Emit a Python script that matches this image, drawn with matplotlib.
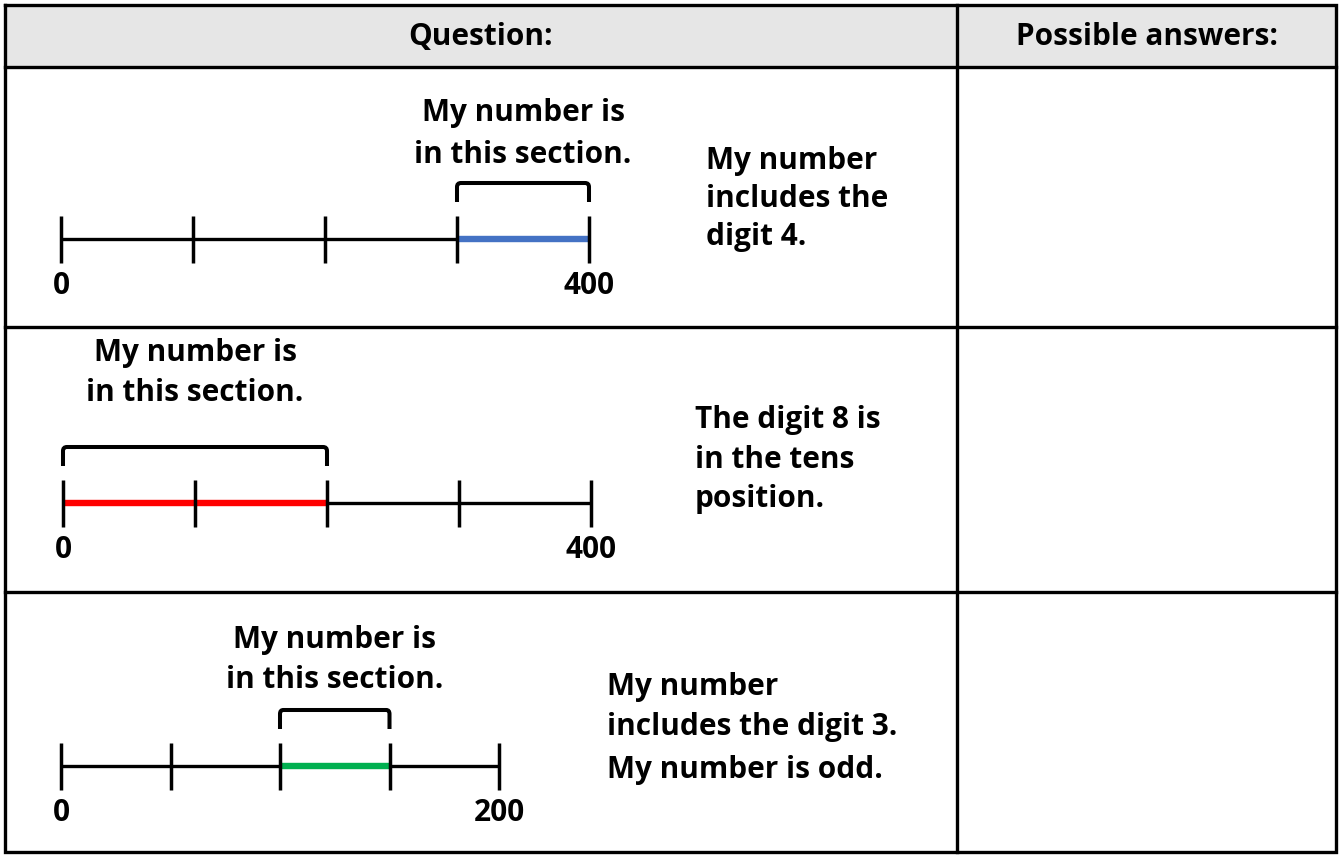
import matplotlib
matplotlib.use("Agg")
import matplotlib.pyplot as plt
from matplotlib.path import Path
from matplotlib.patches import PathPatch, Rectangle

W, H = 1342, 855
plt.rcParams['font.family'] = ['Open Sans', 'DejaVu Sans']

# ---- data ----
headers = ["Question:", "Possible answers:"]
line_max = [400, 400, 200]
n_segments = [4, 4, 4]
end_labels = [("0", "400"), ("0", "400"), ("0", "200")]
highlight_start = [300, 0, 100]
highlight_end = [400, 200, 150]
highlight_colors = ["#4472c4", "#ff0000", "#00b050"]
bracket_text = ["My number is\nin this section."] * 3
clue_lines = [
    ["My number", "includes the", "digit 4."],
    ["The digit 8 is", "in the tens", "position."],
    ["My number", "includes the digit 3.", "My number is odd."],
]

# ---- layout (pixels) ----
left, right, top, bottom = 5, 1336, 5, 852
col_div = 957
row_div = [67, 327, 592]
line_px = [(61, 589, 239), (63, 591, 503), (61, 499, 766)]
bracket_text_y = [(113, 155), (353, 393), (640, 680)]
clue_x = [706, 695, 607]
clue_y = [[161, 199, 237], [420, 460, 499], [687, 727, 770]]

fig = plt.figure(figsize=(W / 100, H / 100), dpi=100)
bg = fig.add_axes([0, 0, 1, 1])
bg.set_xlim(0, W)
bg.set_ylim(H, 0)
bg.axis('off')

FS = 21.4
# header background
bg.add_patch(Rectangle((left, top), right - left, row_div[0] - top,
                       facecolor="#e6e6e6", edgecolor="none", zorder=0))
lw_tab = 2.4
bg.plot([left, right, right, left, left], [top, top, bottom, bottom, top],
        color="black", lw=lw_tab, solid_joinstyle='miter')
for y in row_div:
    bg.plot([left, right], [y, y], color="black", lw=lw_tab)
bg.plot([col_div, col_div], [top, bottom], color="black", lw=lw_tab)
bg.text((left + col_div) / 2, 37, headers[0], ha='center', va='center',
        fontsize=FS, fontweight='bold')
bg.text((col_div + right) / 2, 37, headers[1], ha='center', va='center',
        fontsize=FS, fontweight='bold')

for i in range(3):
    x0, x1, ly = line_px[i]
    # number line axes: x in data values, y in pixel offset (upwards)
    y_lo, y_hi = -70, 90
    ax = fig.add_axes([x0 / W, (H - ly + y_lo) / H, (x1 - x0) / W, (y_hi - y_lo) / H])
    ax.set_xlim(0, line_max[i])
    ax.set_ylim(y_lo, y_hi)
    ax.axis('off')
    ax.patch.set_alpha(0)
    ax.plot([0, line_max[i]], [0, 0], color="black", lw=2.4, solid_capstyle='butt', clip_on=False)
    ax.plot([highlight_start[i], highlight_end[i]], [0, 0], color=highlight_colors[i],
            lw=4.6, solid_capstyle='butt', clip_on=False, zorder=3)
    step = line_max[i] / n_segments[i]
    ticks = [k * step for k in range(n_segments[i] + 1)]
    ax.vlines(ticks, -24, 23, color="black", lw=2.5, clip_on=False, zorder=4)
    ax.text(0, -47, end_labels[i][0], ha='center', va='center', fontsize=FS,
            fontweight='bold', clip_on=False)
    ax.text(line_max[i], -47, end_labels[i][1], ha='center', va='center', fontsize=FS,
            fontweight='bold', clip_on=False)
    # bracket
    a, b = highlight_start[i], highlight_end[i]
    r = step * 0.03
    verts = [(a, 37), (a, 52), (a, 56), (a + r, 56), (b - r, 56), (b, 56), (b, 52), (b, 37)]
    codes = [Path.MOVETO, Path.LINETO, Path.CURVE3, Path.CURVE3, Path.LINETO,
             Path.CURVE3, Path.CURVE3, Path.LINETO]
    ax.add_patch(PathPatch(Path(verts, codes), facecolor='none', edgecolor='black',
                           lw=2.9, clip_on=False))
    # bracket caption
    cx = (x0 + (x1 - x0) * (a + b) / 2 / line_max[i])
    l1, l2 = bracket_text[i].split("\n")
    bg.text(cx, bracket_text_y[i][0], l1, ha='center', va='center', fontsize=FS, fontweight='bold')
    bg.text(cx, bracket_text_y[i][1], l2, ha='center', va='center', fontsize=FS, fontweight='bold')
    for t, yy in zip(clue_lines[i], clue_y[i]):
        bg.text(clue_x[i], yy, t, ha='left', va='center', fontsize=FS, fontweight='bold')

fig.savefig("out.png", dpi=100)
